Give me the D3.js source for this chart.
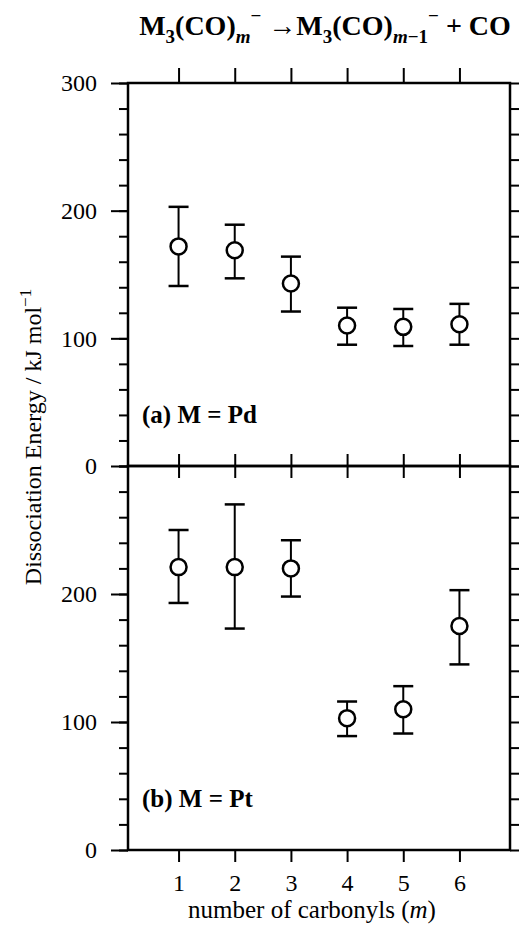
<!DOCTYPE html>
<html>
<head>
<meta charset="utf-8">
<script src="https://cdn.jsdelivr.net/npm/d3@7"></script>
<style>
  body { margin: 0; background: #fff; }
  text { font-family: "Liberation Serif", "Times New Roman", serif; fill: #000; }
</style>
</head>
<body>
<script>
// data (kJ/mol)
const carbonyls = [1, 2, 3, 4, 5, 6];
const pdEnergy = [172, 169, 143, 110, 109, 111];
const pdUpper  = [203, 189, 164, 124, 123, 127];
const pdLower  = [141, 147, 121, 95, 94, 95];
const ptEnergy = [221, 221, 220, 103, 110, 175];
const ptUpper  = [250, 270, 242, 116, 128, 203];
const ptLower  = [193, 173, 198, 89, 91, 145];

const topTickLabels = [0, 100, 200, 300];
const bottomTickLabels = [0, 100, 200];
const minorTicks = d3.range(0, 301, 20);

const width = 521, height = 928;
const left = 128, right = 510;

const svg = d3.select("body").append("svg")
  .attr("width", width)
  .attr("height", height);

const x = d3.scaleLinear().domain([0.1, 6.9]).range([left, right]);

// two stacked panels sharing the x axis
const panels = [
  { y: d3.scaleLinear().domain([0, 300]).range([466, 83]),
    e: pdEnergy, hi: pdUpper, lo: pdLower, labels: topTickLabels, name: "(a) M = Pd" },
  { y: d3.scaleLinear().domain([0, 300]).range([850, 466]),
    e: ptEnergy, hi: ptUpper, lo: ptLower, labels: bottomTickLabels, name: "(b) M = Pt" }
];

const noDomain = g => g.select(".domain").remove();

panels.forEach((p, i) => {
  const y = p.y;
  const top = y.range()[1], bottom = y.range()[0];

  // left minor ticks
  svg.append("g")
    .attr("transform", "translate(" + left + ",0)")
    .call(d3.axisLeft(y).tickValues(minorTicks).tickSize(9).tickFormat(""))
    .call(noDomain)
    .selectAll("line").attr("stroke-width", 2);

  // left major ticks + labels
  svg.append("g")
    .attr("transform", "translate(" + left + ",0)")
    .call(d3.axisLeft(y).tickValues(p.labels).tickSize(17).tickPadding(14))
    .call(noDomain)
    .call(g => g.selectAll("line").attr("stroke-width", 2))
    .call(g => g.selectAll("text")
      .attr("font-size", 24)
      .attr("font-family", "Liberation Serif, serif")
      .attr("fill", "#000"));

  // right ticks
  svg.append("g")
    .attr("transform", "translate(" + right + ",0)")
    .call(d3.axisRight(y).tickValues(minorTicks).tickSize(9).tickFormat(""))
    .call(noDomain)
    .selectAll("line").attr("stroke-width", 2);

  // x ticks on top edge (outward)
  svg.append("g")
    .attr("transform", "translate(0," + top + ")")
    .call(d3.axisTop(x).tickValues(carbonyls).tickSize(i === 0 ? 15 : 12).tickFormat(""))
    .call(noDomain)
    .selectAll("line").attr("stroke-width", 2);

  // x ticks on bottom edge (outward)
  const xb = svg.append("g")
    .attr("transform", "translate(0," + bottom + ")")
    .call(d3.axisBottom(x).tickValues(carbonyls).tickSize(12).tickPadding(12)
      .tickFormat(i === 1 ? d3.format("d") : ""))
    .call(noDomain);
  xb.selectAll("line").attr("stroke-width", 2);
  xb.selectAll("text")
    .attr("font-size", 24)
    .attr("font-family", "Liberation Serif, serif")
    .attr("fill", "#000");

  // frame
  svg.append("rect")
    .attr("x", left).attr("y", top)
    .attr("width", right - left).attr("height", bottom - top)
    .attr("fill", "none")
    .attr("stroke", "#000")
    .attr("stroke-width", 2.5);

  // error bars
  const bars = svg.append("g").selectAll("g")
    .data(carbonyls)
    .join("g")
    .attr("stroke", "#000");

  bars.append("line")
    .attr("x1", d => x(d)).attr("x2", d => x(d))
    .attr("y1", (d, j) => y(p.hi[j])).attr("y2", (d, j) => y(p.lo[j]))
    .attr("stroke-width", 2);

  [p.hi, p.lo].forEach(arr => {
    bars.append("line")
      .attr("x1", d => x(d) - 10).attr("x2", d => x(d) + 10)
      .attr("y1", (d, j) => y(arr[j])).attr("y2", (d, j) => y(arr[j]))
      .attr("stroke-width", 2.5);
  });

  bars.append("circle")
    .attr("cx", d => x(d))
    .attr("cy", (d, j) => y(p.e[j]))
    .attr("r", 8)
    .attr("fill", "#fff")
    .attr("stroke-width", 2.5);

  // panel label
  svg.append("text")
    .attr("x", 142)
    .attr("y", bottom - 43)
    .attr("font-size", 25)
    .attr("font-weight", "bold")
    .text(p.name);
});

// title
const title = svg.append("text")
  .attr("x", 325)
  .attr("y", 35)
  .attr("text-anchor", "middle")
  .attr("font-size", 28)
  .attr("font-weight", "bold");
title.append("tspan").text("M");
title.append("tspan").attr("font-size", 19).attr("dy", 8).text("3");
title.append("tspan").attr("dy", -8).text("(CO)");
title.append("tspan").attr("font-size", 19).attr("font-style", "italic").attr("dy", 8).text("m");
title.append("tspan").attr("font-size", 19).attr("dy", -21).text("\u2212");
title.append("tspan").attr("dy", 13).text(" \u2192M");
title.append("tspan").attr("font-size", 19).attr("dy", 8).text("3");
title.append("tspan").attr("dy", -8).text("(CO)");
title.append("tspan").attr("font-size", 19).attr("font-style", "italic").attr("dy", 8).text("m");
title.append("tspan").attr("font-size", 19).text("\u22121");
title.append("tspan").attr("font-size", 19).attr("dy", -21).text("\u2212");
title.append("tspan").attr("dy", 13).text(" + CO");

// y axis label
const yl = svg.append("text")
  .attr("transform", "translate(41,437) rotate(-90)")
  .attr("text-anchor", "middle")
  .attr("font-size", 24);
yl.append("tspan").text("Dissociation Energy / kJ mol");
yl.append("tspan").attr("font-size", 17).attr("dy", -10).text("\u22121");

// x axis label
const xl = svg.append("text")
  .attr("x", 312)
  .attr("y", 918)
  .attr("text-anchor", "middle")
  .attr("font-size", 25);
xl.append("tspan").text("number of carbonyls (");
xl.append("tspan").attr("font-style", "italic").text("m");
xl.append("tspan").text(")");
</script>
</body>
</html>
